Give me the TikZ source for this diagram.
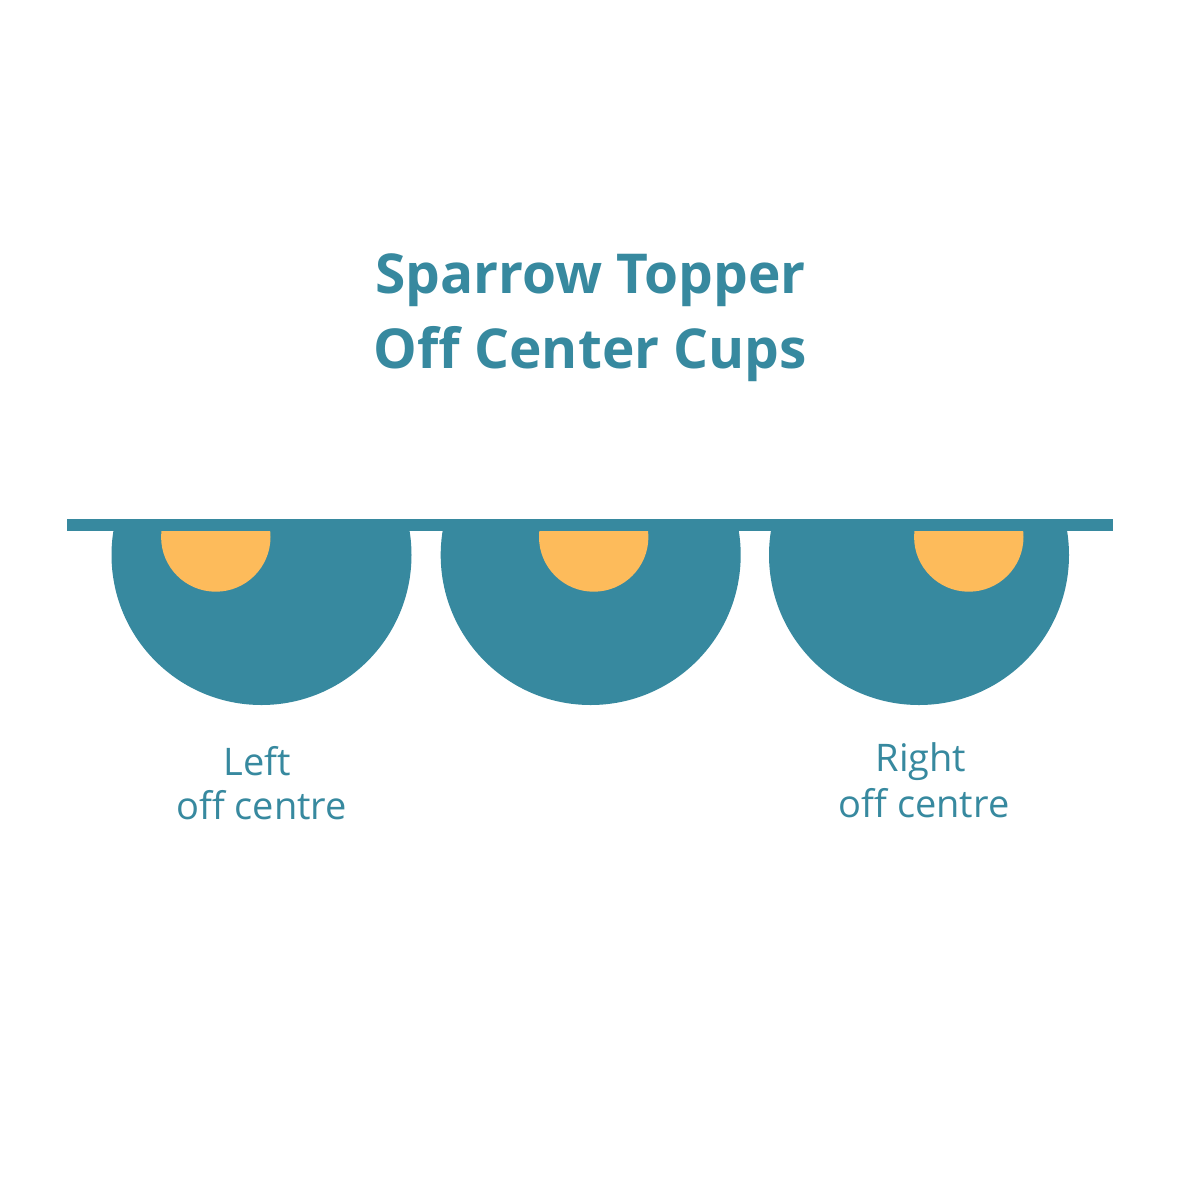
\documentclass[tikz,border=0pt]{standalone}
\usepackage{fontspec}
\setmainfont{Open Sans}
\definecolor{teal}{HTML}{37899F}
\definecolor{sun}{HTML}{FDBB5B}
\begin{document}
\begin{tikzpicture}[x=1pt,y=-1pt,
  titletext/.style={text=teal,inner sep=0pt,anchor=base,font=\fontsize{55}{60}\selectfont\bfseries},
  labeltext/.style={text=teal,inner sep=0pt,anchor=base,font=\fontsize{38}{40}\selectfont}]
\useasboundingbox[fill=white] (0,0) rectangle (1181,1181);
% bar
\fill[teal] (67,519) rectangle (1113,531);
\begin{scope}
\clip (0,531) rectangle (1181,1181);
\fill[teal] (261.5,555) circle[radius=150];
\fill[teal] (590.7,555) circle[radius=150];
\fill[teal] (919,555) circle[radius=150];
\fill[sun] (215.8,537) circle[radius=54.7];
\fill[sun] (593.7,537) circle[radius=54.7];
\fill[sun] (968.8,537) circle[radius=54.7];
\end{scope}
\node[titletext] (t1) at (590.5,293) {Sparrow Topper};
\node[titletext] (t2) at (590.5,368) {Off Center Cups};
\node[labeltext] (l1) at (257,775) {Left};
\node[labeltext] (l2) at (261.5,819) {off centre};
\node[labeltext] (r1) at (921,771) {Right};
\node[labeltext] (r2) at (924,817) {off centre};
\end{tikzpicture}
\end{document}
